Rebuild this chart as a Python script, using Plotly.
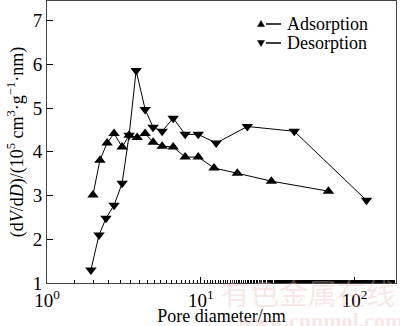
import plotly.graph_objects as go

ads_d = [1.99, 2.21, 2.46, 2.73, 3.08, 3.42, 3.86, 4.35, 4.90, 5.61, 6.62, 7.92, 9.63, 12.2, 17.3, 28.8, 67.7]
ads_v = [3.01, 3.81, 4.20, 4.42, 4.11, 4.38, 4.33, 4.42, 4.22, 4.13, 4.11, 3.88, 3.88, 3.63, 3.51, 3.33, 3.10]
des_d = [1.93, 2.18, 2.42, 2.73, 3.08, 3.42, 3.80, 4.35, 4.90, 5.61, 6.62, 7.92, 9.63, 12.6, 20.1, 40.6, 119.7]
des_v = [1.30, 2.10, 2.48, 2.78, 3.28, 4.38, 5.86, 4.97, 4.56, 4.47, 4.77, 4.40, 4.40, 4.20, 4.58, 4.47, 2.89]
series_names = ["Adsorption", "Desorption"]

x_tickvals = [1, 10, 100]
x_ticktext = ["10<sup>0</sup>", "10<sup>1</sup>", "10<sup>2</sup>"]
y_tickvals = [1, 2, 3, 4, 5, 6, 7]

FONT = "Liberation Serif, Times New Roman, serif"

W, H = 400, 326
L, R, T, B = 47, 4, 1, 43
PW, PH = W - L - R, H - T - B


def px(X):
    return (X - L) / PW


def py(Y):
    return (H - B - Y) / PH


fig = go.Figure()
fig.add_trace(go.Scatter(x=ads_d, y=ads_v, mode="lines+markers", name=series_names[0],
                         line=dict(color="black", width=1),
                         marker=dict(symbol="triangle-up", size=10, color="black")))
fig.add_trace(go.Scatter(x=des_d, y=des_v, mode="lines+markers", name=series_names[1],
                         line=dict(color="black", width=1),
                         marker=dict(symbol="triangle-down", size=10, color="black")))

# custom legend: small marker, short line, label
rows = [24, 43]
for i, (name, yy) in enumerate(zip(series_names, rows)):
    cx = 261
    if i == 0:
        pts = [(cx - 3.5, yy + 2.5), (cx + 3.5, yy + 2.5), (cx, yy - 3.5)]
    else:
        pts = [(cx - 3.5, yy - 2.5), (cx + 3.5, yy - 2.5), (cx, yy + 3.5)]
    path = "M {} {} L {} {} L {} {} Z".format(*[v for p in pts for v in (px(p[0]), py(p[1]))])
    fig.add_shape(type="path", path=path, xref="paper", yref="paper",
                  fillcolor="black", line=dict(color="black", width=0.5))
    fig.add_shape(type="line", xref="paper", yref="paper",
                  x0=px(266), x1=px(281), y0=py(yy), y1=py(yy),
                  line=dict(color="black", width=1.5))
    fig.add_annotation(text=name, xref="paper", yref="paper", x=px(285), y=py(yy),
                       xanchor="left", yanchor="middle", showarrow=False,
                       font=dict(family=FONT, size=18, color="black"))

# faint watermark
fig.add_annotation(text="有色金属在线", xref="paper", yref="paper", x=px(397), y=py(292),
                   xanchor="right", yanchor="middle", showarrow=False,
                   font=dict(family="Noto Sans CJK SC", size=29, color="rgba(235,185,185,0.35)"))
fig.add_annotation(text="<b>www.cnnmol.com</b>", xref="paper", yref="paper", x=px(405), y=py(320),
                   xanchor="right", yanchor="middle", showarrow=False,
                   font=dict(family=FONT, size=22, color="rgba(235,185,185,0.35)"))

fig.update_layout(
    width=W, height=H,
    margin=dict(l=L, r=R, t=T, b=B),
    paper_bgcolor="white", plot_bgcolor="white",
    font=dict(family=FONT, size=18, color="black"),
    showlegend=False,
    xaxis=dict(type="log", range=[0, 2.27], tickvals=x_tickvals, ticktext=x_ticktext,
               ticks="inside", ticklen=6, tickcolor="black", tickwidth=1,
               minor=dict(ticks="inside", ticklen=3, tickcolor="black", tickwidth=1, showgrid=False),
               showline=True, linecolor="#444", linewidth=1, mirror=True,
               showgrid=False, zeroline=False,
               title=dict(text="Pore diameter/nm", font=dict(size=18), standoff=2),
               tickfont=dict(size=19)),
    yaxis=dict(range=[1, 7.45], tickvals=y_tickvals,
               ticks="inside", ticklen=6, tickcolor="black", tickwidth=1,
               showline=True, linecolor="#444", linewidth=1, mirror=True,
               showgrid=False, zeroline=False,
               title=dict(text="(d<i>V</i>/d<i>D</i>)/(10<sup>5</sup> cm<sup>3</sup>·g<sup>−1</sup>·nm)",
                          font=dict(size=18), standoff=4),
               tickfont=dict(size=19)),
)

fig.write_html("out.html")
